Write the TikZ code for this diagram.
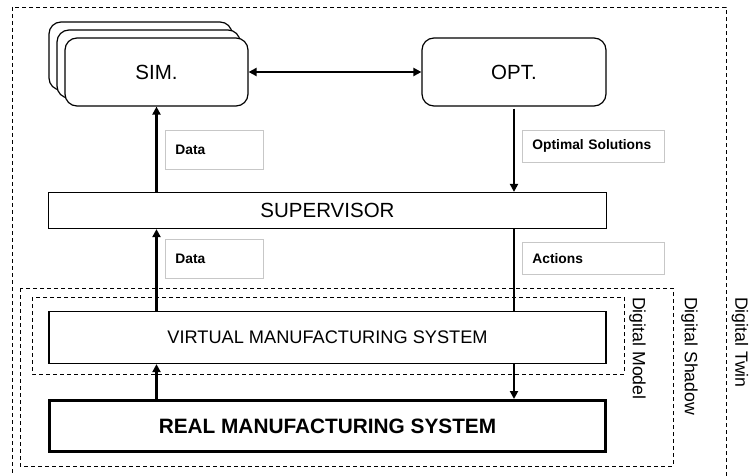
\documentclass[tikz,border=0pt]{standalone}
\usepackage{fontspec}
\setmainfont{Liberation Sans}
\usetikzlibrary{arrows.meta}
\begin{document}
\begin{tikzpicture}[x=1pt,y=-1pt,
  mainbox/.style={draw, line width=1.2pt, fill=white, inner sep=0pt,
    font=\fontsize{20.5}{24}\selectfont},
  roundbox/.style={mainbox, rounded corners=12pt, minimum width=183pt, minimum height=68pt},
  labbox/.style={draw=black!22, line width=0.8pt, fill=white, inner ysep=0pt, inner xsep=10pt,
    align=left, font=\bfseries\fontsize{13.8}{16}\selectfont, anchor=north west},
  frame/.style={draw, line width=0.9pt, dash pattern=on 4pt off 3pt},
  sidelab/.style={rotate=-90, anchor=west, inner sep=0pt, font=\fontsize{17.7}{20}\selectfont},
  arr/.style={line width=2.6pt, -{Triangle[length=8pt,width=8pt]}},
  darr/.style={line width=2.6pt, {Triangle[length=8pt,width=8pt]}-{Triangle[length=8pt,width=8pt]}},
  plain/.style={line width=2.6pt}
]
\clip (0,0) rectangle (750,476);
\fill[white] (0,0) rectangle (750,476);

% dashed frames
\draw[frame] (12,7) rectangle (726,490);
\draw[frame] (20,288) rectangle (673,466);
\draw[frame] (32,297) rectangle (624,374);

% side labels
\node[sidelab] (twin) at (740,297) {Digital Twin};
\node[sidelab] (shadow) at (689.5,297) {Digital Shadow};
\node[sidelab] (model) at (637.5,297) {Digital Model};

% nodes
\node[roundbox] (sim3) at (140.5,56) {};
\node[roundbox] (sim2) at (148.5,64) {};
\node[roundbox] (sim) at (156.5,72) {SIM.};
\node[roundbox, minimum width=184pt] (opt) at (514,72) {OPT.};
\node[mainbox, minimum width=558pt, minimum height=36pt] (sup) at (327.5,210.5) {SUPERVISOR};
\node[mainbox, minimum width=557pt, minimum height=52pt, font=\fontsize{18.2}{22}\selectfont] (vms) at (327.5,337.5) {VIRTUAL MANUFACTURING SYSTEM};
\node[mainbox, line width=3pt, minimum width=556pt, minimum height=51pt, font=\bfseries\fontsize{20.8}{24}\selectfont] (rms) at (327.5,426) {REAL MANUFACTURING SYSTEM};

% labels
\node[labbox, text width=78pt, minimum height=39pt] (data1) at (165,130) {Data};
\node[labbox, text width=78pt, minimum height=39pt] (data2) at (165,239) {Data};
\node[labbox, text width=122pt, minimum height=32pt] (optsol) at (522,130) {Optimal Solutions};
\node[labbox, text width=122pt, minimum height=32pt] (actions) at (522,242) {Actions};

% connectors
\draw[darr] (sim.east) -- (opt.west);
\draw[arr] (sup.north -| sim.south) -- (sim.south);
\draw[arr] (vms.north -| sim.south) -- (sup.south -| sim.south);
\draw[arr] (rms.north -| sim.south) -- (vms.south -| sim.south);
\draw[arr, shorten <=2pt] (opt.south) -- (sup.north -| opt.south);
\draw[plain] (sup.south -| opt.south) -- (vms.north -| opt.south);
\draw[arr] (vms.south -| opt.south) -- (rms.north -| opt.south);
\end{tikzpicture}
\end{document}
